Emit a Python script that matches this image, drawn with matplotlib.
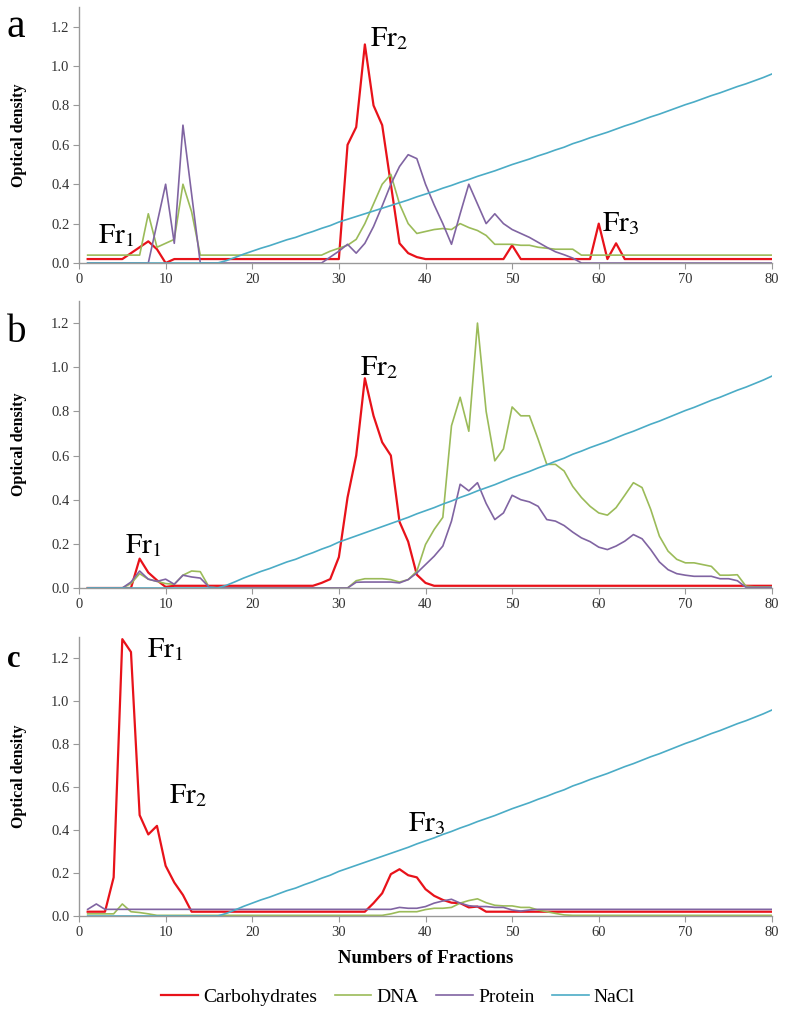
import matplotlib
matplotlib.use("Agg")
import matplotlib.pyplot as plt
import numpy as np

# fraction numbers shared by all three panels
fractions = list(range(1, 81))

# NaCl gradient (same in a, b and c)
nacl = [0.0] * 16 + [
    0.012, 0.028, 0.045, 0.060, 0.075, 0.088, 0.103, 0.118, 0.130, 0.146,
    0.160, 0.176, 0.190, 0.208, 0.222, 0.236, 0.250, 0.264, 0.278, 0.292,
    0.306, 0.320, 0.336, 0.350, 0.364, 0.380, 0.394, 0.410, 0.424, 0.440,
    0.454, 0.468, 0.484, 0.500, 0.514, 0.528, 0.544, 0.558, 0.574, 0.588,
    0.606, 0.620, 0.636, 0.650, 0.664, 0.680, 0.696, 0.710, 0.726, 0.742,
    0.756, 0.772, 0.788, 0.804, 0.818, 0.834, 0.850, 0.864, 0.880, 0.896,
    0.910, 0.926, 0.942, 0.960]

# panel a
carb_a = ([0.02] * 5 + [0.05, 0.08, 0.11, 0.07, 0.0] + [0.02] * 20 +
          [0.60, 0.69, 1.11, 0.80, 0.70, 0.40, 0.10, 0.05, 0.03] + [0.02] * 10 +
          [0.09] + [0.02] * 9 + [0.20, 0.02, 0.10] + [0.02] * 18)
dna_a = ([0.04] * 7 + [0.25, 0.08, 0.10, 0.12, 0.40, 0.26] + [0.04] * 15 +
         [0.06, 0.075, 0.09, 0.12, 0.20, 0.30, 0.40, 0.45, 0.30, 0.20, 0.15,
          0.16, 0.17, 0.175, 0.17, 0.20, 0.18, 0.165, 0.14, 0.095, 0.095,
          0.095, 0.09, 0.09, 0.08, 0.075, 0.07, 0.07, 0.07] + [0.04] * 23)
prot_a = ([0.0] * 8 + [0.20, 0.40, 0.10, 0.70, 0.35] + [0.0] * 15 +
          [0.03, 0.06, 0.095, 0.05, 0.10, 0.185, 0.29, 0.40, 0.49, 0.55, 0.53,
           0.40, 0.295, 0.20, 0.095, 0.25, 0.40, 0.30, 0.20, 0.25, 0.20, 0.17,
           0.15, 0.13, 0.105, 0.08, 0.057, 0.042, 0.025] + [0.0] * 23)

# panel b
carb_b = ([0.0] * 6 + [0.133, 0.07, 0.035, 0.005] + [0.01] * 17 +
          [0.023, 0.04, 0.14, 0.41, 0.60, 0.95, 0.78, 0.66, 0.60, 0.30, 0.21,
           0.06, 0.023] + [0.01] * 40)
dna_b = ([0.0] * 5 + [0.02, 0.065, 0.04, 0.03, 0.02, 0.017, 0.058, 0.077, 0.074, 0.005] +
         [0.0] * 16 +
         [0.033, 0.042, 0.042, 0.042, 0.038, 0.027, 0.038, 0.076, 0.197, 0.265,
          0.32, 0.735, 0.864, 0.71, 1.20, 0.80, 0.576, 0.63, 0.82, 0.78, 0.78,
          0.674, 0.56, 0.56, 0.53, 0.46, 0.41, 0.37, 0.34, 0.33, 0.364, 0.42,
          0.477, 0.455, 0.356, 0.235, 0.167, 0.13, 0.114, 0.114, 0.106, 0.098,
          0.058, 0.058, 0.06, 0.008] + [0.005] * 3)
prot_b = ([0.0] * 5 + [0.027, 0.077, 0.04, 0.03, 0.04, 0.017, 0.058, 0.05, 0.045, 0.005] +
          [0.0] * 16 +
          [0.026, 0.027, 0.027, 0.027, 0.027, 0.023, 0.038, 0.068, 0.106, 0.144,
           0.19, 0.303, 0.47, 0.44, 0.477, 0.383, 0.31, 0.34, 0.42, 0.40, 0.39,
           0.37, 0.31, 0.303, 0.283, 0.253, 0.227, 0.21, 0.185, 0.174, 0.19,
           0.212, 0.242, 0.223, 0.174, 0.118, 0.083, 0.065, 0.058, 0.053, 0.053,
           0.053, 0.042, 0.042, 0.033, 0.003] + [0.003] * 3)

# panel c
carb_c = ([0.02] * 3 + [0.18, 1.29, 1.23, 0.47, 0.38, 0.42, 0.234, 0.156, 0.098] +
          [0.02] * 21 +
          [0.06, 0.106, 0.195, 0.218, 0.19, 0.18, 0.125, 0.094, 0.075, 0.062,
           0.06, 0.04, 0.044] + [0.02] * 34)
dna_c = ([0.01] * 4 + [0.056, 0.02, 0.016, 0.01, 0.003] + [0.003] * 26 +
         [0.01, 0.02, 0.02, 0.02, 0.03, 0.036, 0.036, 0.04, 0.06, 0.072, 0.08,
          0.062, 0.05, 0.047, 0.047, 0.04, 0.04, 0.028, 0.02, 0.012, 0.005] +
         [0.003] * 24)
prot_c = ([0.031, 0.056, 0.031] + [0.031] * 33 +
          [0.04, 0.036, 0.036, 0.044, 0.06, 0.07, 0.078, 0.06, 0.048, 0.044,
           0.044, 0.04, 0.04, 0.028, 0.023, 0.028] + [0.031] * 28)

series_names = ["Carbohydrates", "DNA", "Protein", "NaCl"]
colors = ["#E8121A", "#9BBB59", "#8064A2", "#4BACC6"]
widths = [1.6, 1.2, 1.2, 1.2]

# peak labels: (subscript, x, y) in data units
labels_a = [("1", 2.2, 0.14), ("2", 33.6, 1.14), ("3", 60.4, 0.20)]
labels_b = [("1", 5.3, 0.19), ("2", 32.4, 1.00)]
labels_c = [("1", 7.8, 1.24), ("2", 10.4, 0.56), ("3", 38.0, 0.43)]

plt.rcParams["font.family"] = ["Liberation Serif", "DejaVu Serif"]
plt.rcParams["mathtext.fontset"] = "stix"

W, H = 794, 1014
fig = plt.figure(figsize=(W / 100, H / 100), dpi=100)

# axes rectangles from pixel positions (top of 1.3, line of 0.0)
def rect(top, bottom, left=79, right=772):
    return [left / W, 1 - bottom / H, (right - left) / W, (bottom - top) / H]

panels = [
    (rect(7, 263), [carb_a, dna_a, prot_a, nacl], labels_a, "a", 37, 30, "normal"),
    (rect(301, 588), [carb_b, dna_b, prot_b, nacl], labels_b, "b", 342, 28, "normal"),
    (rect(637, 916), [carb_c, dna_c, prot_c, nacl], labels_c, "c", 667, 22, "bold"),
]

for i, (r, data, labels, letter, ly, lsize, lweight) in enumerate(panels):
    ax = fig.add_axes(r)
    for vals, name, col, lw in zip(data, series_names, colors, widths):
        ax.plot(fractions, vals, color=col, lw=lw, label=name)
    ax.set_xlim(0, 80)
    ax.set_ylim(0, 1.3)
    ax.set_xticks(np.arange(0, 81, 10))
    ax.set_yticks(np.arange(0, 1.21, 0.2))
    ax.set_yticklabels(["%.1f" % v for v in np.arange(0, 1.21, 0.2)])
    for s in ["top", "right"]:
        ax.spines[s].set_visible(False)
    for s in ["left", "bottom"]:
        ax.spines[s].set_color("#999999")
        ax.spines[s].set_linewidth(1.0)
    ax.tick_params(direction="out", length=4, width=0.8, color="#999999",
                   labelcolor="#333333", labelsize=10.5, pad=3)
    ax.set_ylabel("Optical density", fontweight="bold", fontsize=11.5)
    ax.yaxis.set_label_coords(-(79 - 27) / (772 - 79), 0.5)
    for sub, x, y in labels:
        ax.text(x, y, r"$\mathrm{Fr}_{%s}$" % sub, fontsize=21, ha="left",
                va="center", color="black")
    fig.text(7 / W, 1 - ly / H, letter, fontsize=lsize,
             fontweight=lweight, ha="left", va="baseline")
    if i == 2:
        ax.set_xlabel("Numbers of Fractions", fontweight="bold",
                      fontsize=13.5, labelpad=8)
        handles, names = ax.get_legend_handles_labels()

fig.legend(handles, names, loc="center", bbox_to_anchor=(398 / W, 1 - 997 / H),
           ncol=4, frameon=False, handlelength=1.9, columnspacing=0.9,
           handletextpad=0.25, prop={"size": 14})

fig.savefig("out.png", dpi=100)
